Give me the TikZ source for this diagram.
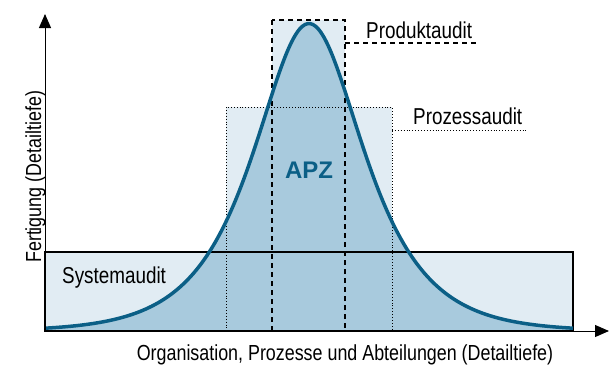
\documentclass[tikz,border=0pt]{standalone}
\usepackage{fontspec}
\setmainfont{Liberation Sans}[FakeStretch=0.82]
\newfontfamily\apzfont{Liberation Sans}
\usetikzlibrary{arrows.meta}

\definecolor{lightblue}{HTML}{E1ECF3}
\definecolor{midblue}{HTML}{A8CADD}
\definecolor{darkblue}{HTML}{0B5F86}

\begin{document}
\begin{tikzpicture}[%
    x=1pt, y=-1pt,
    auditbox/.style={
        fill=lightblue,
        },
    auditlabel/.style={
        anchor=base west,
        inner sep=0,
        font=\fontsize{23}{26}\selectfont,
        },
    axislabel/.style={
        anchor=base,
        inner sep=0,
        font=\fontsize{21.8}{25}\selectfont,
        },
    axis/.style={
        line width=1pt,
        -{Triangle[length=14pt, width=12pt]},
        },
    bellcurve/.style={
        line width=3.5pt,
        darkblue,
        line join=round,
        },
]

\useasboundingbox (0,0) rectangle (609,365);

% corners of the three audit boxes
\coordinate (origin) at (45,331);
\coordinate (sysTL) at (45,252);
\coordinate (sysBR) at (573,331);
\coordinate (prozTL) at (226,107);
\coordinate (prozBR) at (392,331);
\coordinate (prodTL) at (272,20);
\coordinate (prodBR) at (345,331);

\fill[auditbox] (sysTL) rectangle (sysBR);
\fill[auditbox] (prozTL) rectangle (prozBR);
\fill[auditbox] (prodTL) rectangle (prodBR);

\fill[midblue] plot[domain=45:573, samples=200, smooth]
    ({\x},{331-307.5/cosh((\x-309)/49)}) -- (sysBR) -- (origin) -- cycle;

\draw[line width=1.2pt] (sysTL) rectangle (sysBR);
\draw[line width=0.9pt, dotted] (prozTL) rectangle (prozBR);
\draw[line width=1.2pt, dash pattern=on 5pt off 4pt] (prodTL) rectangle (prodBR);

\draw[bellcurve] plot[domain=45:573, samples=200, smooth]
    ({\x},{331-307.5/cosh((\x-309)/49)});

% labels
\node[auditlabel] (produkt) at (366,38.3) {Produktaudit};
\node[auditlabel] (prozess) at (413,124) {Prozessaudit};
\node[auditlabel] (system) at (62,283) {Systemaudit};
\node[inner sep=0, text=darkblue, font=\apzfont\fontsize{24}{26}\selectfont\bfseries] (apz) at (309,170.5) {APZ};

\coordinate (produktEnd) at (477,43);
\coordinate (prozessEnd) at (527,130);
\draw[line width=1.2pt, dash pattern=on 5pt off 4pt] (prodBR |- produktEnd) -- (produktEnd);
\draw[line width=0.9pt, dotted] (prozBR |- prozessEnd) -- (prozessEnd);

% axes
\coordinate (ytip) at (45,14);
\coordinate (xtip) at (609,331);
\draw[axis] (origin) -- (ytip);
\draw[axis] (origin) -- (xtip);

\node[axislabel] (xlabel) at (345,360) {Organisation, Prozesse und Abteilungen (Detailtiefe)};
\node[axislabel, rotate=90, anchor=base west] (ylabel) at (41,263) {Fertigung (Detailtiefe)};

\end{tikzpicture}
\end{document}
